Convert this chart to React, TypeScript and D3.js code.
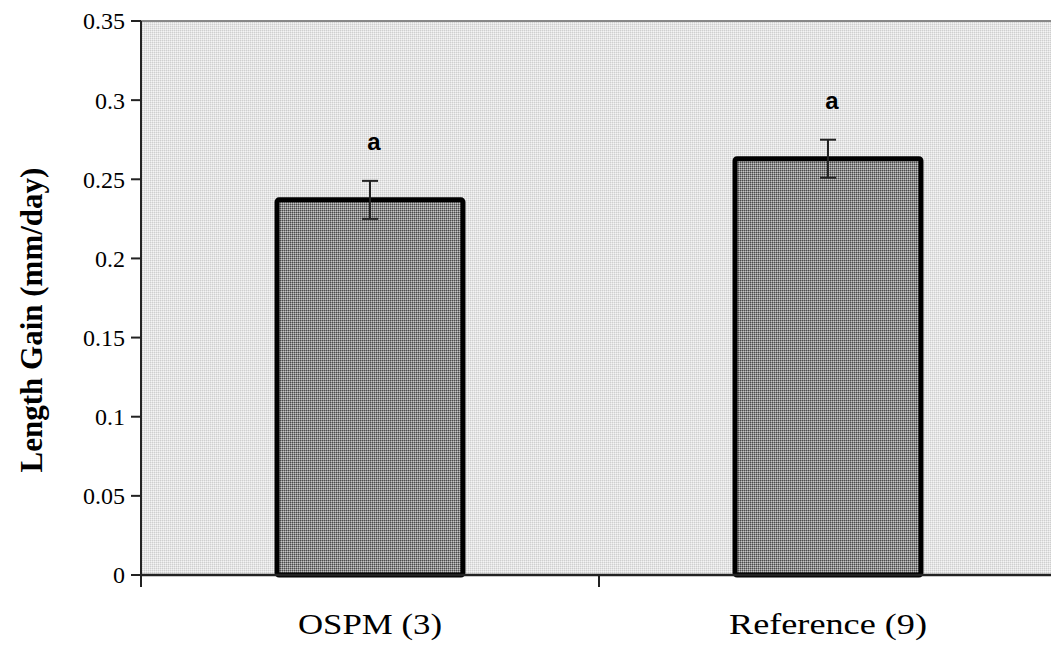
import React from "react";
import * as d3 from "d3";

const categories = ["OSPM (3)", "Reference (9)"];
const values = [0.237, 0.263];
const errors = [0.012, 0.012];
const letters = ["a", "a"];
const yTicks = [0, 0.05, 0.1, 0.15, 0.2, 0.25, 0.3, 0.35];
const yTickLabels = ["0", "0.05", "0.1", "0.15", "0.2", "0.25", "0.3", "0.35"];
const labelWidths = [144, 198];

export default function App() {
  const W = 1051, H = 650;
  const left = 141, right = 1057, top = 21, bottom = 575;
  const x = d3.scaleBand<string>().domain(categories).range([left, right]).paddingInner(0).paddingOuter(0);
  const y = d3.scaleLinear().domain([0, 0.35]).range([bottom, top]);
  const bw = x.bandwidth();
  const barW = bw * 0.406;
  const serif = "'Liberation Serif', 'Times New Roman', serif";
  const sans = "'Liberation Sans', Arial, sans-serif";
  const xTickPositions = [left, ...categories.map((c) => (x(c) as number) + bw)];
  return (
    <svg width={W} height={H} style={{ position: "absolute", left: 0, top: 0 }}>
      <defs>
        <pattern id="bgp" width="2" height="2" patternUnits="userSpaceOnUse">
          <rect width="2" height="2" fill="#e4e4e4" />
          <rect width="1" height="1" fill="#cfcfcf" />
          <rect x="1" y="1" width="1" height="1" fill="#f4f4f4" />
        </pattern>
        <pattern id="barp" width="2" height="2" patternUnits="userSpaceOnUse">
          <rect width="2" height="2" fill="#8a8a8a" />
          <rect width="1" height="1" fill="#4a4a4a" />
          <rect x="1" y="1" width="1" height="1" fill="#c4c4c4" />
        </pattern>
      </defs>
      <rect x={0} y={0} width={W} height={H} fill="#fff" />
      <rect x={left} y={top} width={W - left} height={bottom - top} fill="url(#bgp)" />
      <line x1={left} x2={W} y1={top} y2={top} stroke="#888" strokeWidth={2} />
      {categories.map((c, i) => {
        const cx = (x(c) as number) + bw / 2;
        const y0 = y(values[i]);
        return (
          <g key={c}>
            <rect
              x={cx - barW / 2}
              y={y0}
              width={barW}
              height={bottom - y0}
              fill="url(#barp)"
              stroke="#000"
              strokeWidth={5}
              rx={2}
            />
            <line x1={cx} x2={cx} y1={y(values[i] + errors[i])} y2={y(values[i] - errors[i])} stroke="#222" strokeWidth={2} />
            <line x1={cx - 8} x2={cx + 8} y1={y(values[i] + errors[i])} y2={y(values[i] + errors[i])} stroke="#222" strokeWidth={2} />
            <line x1={cx - 8} x2={cx + 8} y1={y(values[i] - errors[i])} y2={y(values[i] - errors[i])} stroke="#222" strokeWidth={2} />
            <text x={cx + 4} y={y(values[i] + errors[i]) - 31} textAnchor="middle" fontFamily={sans} fontWeight="bold" fontSize={24}>
              {letters[i]}
            </text>
            <text
              x={cx}
              y={634}
              textAnchor="middle"
              fontFamily={serif}
              fontSize={30}
              textLength={labelWidths[i]}
              lengthAdjust="spacingAndGlyphs"
            >
              {c}
            </text>
          </g>
        );
      })}
      <line x1={left} x2={W} y1={bottom} y2={bottom} stroke="#222" strokeWidth={2.5} />
      <line x1={left} x2={left} y1={top} y2={bottom + 12} stroke="#222" strokeWidth={2} />
      {xTickPositions.map((p, i) => (
        <line key={i} x1={p} x2={p} y1={bottom} y2={bottom + 12} stroke="#222" strokeWidth={2} />
      ))}
      {yTicks.map((t, i) => (
        <g key={t}>
          <line x1={left - 10} x2={left} y1={y(t)} y2={y(t)} stroke="#222" strokeWidth={2} />
          <text x={left - 16} y={y(t)} dy="0.35em" textAnchor="end" fontFamily={serif} fontSize={24}>
            {yTickLabels[i]}
          </text>
        </g>
      ))}
      <text
        transform={`translate(42, 320) rotate(-90)`}
        textAnchor="middle"
        fontFamily={serif}
        fontWeight="bold"
        fontSize={31}
      >
        Length Gain (mm/day)
      </text>
    </svg>
  );
}
